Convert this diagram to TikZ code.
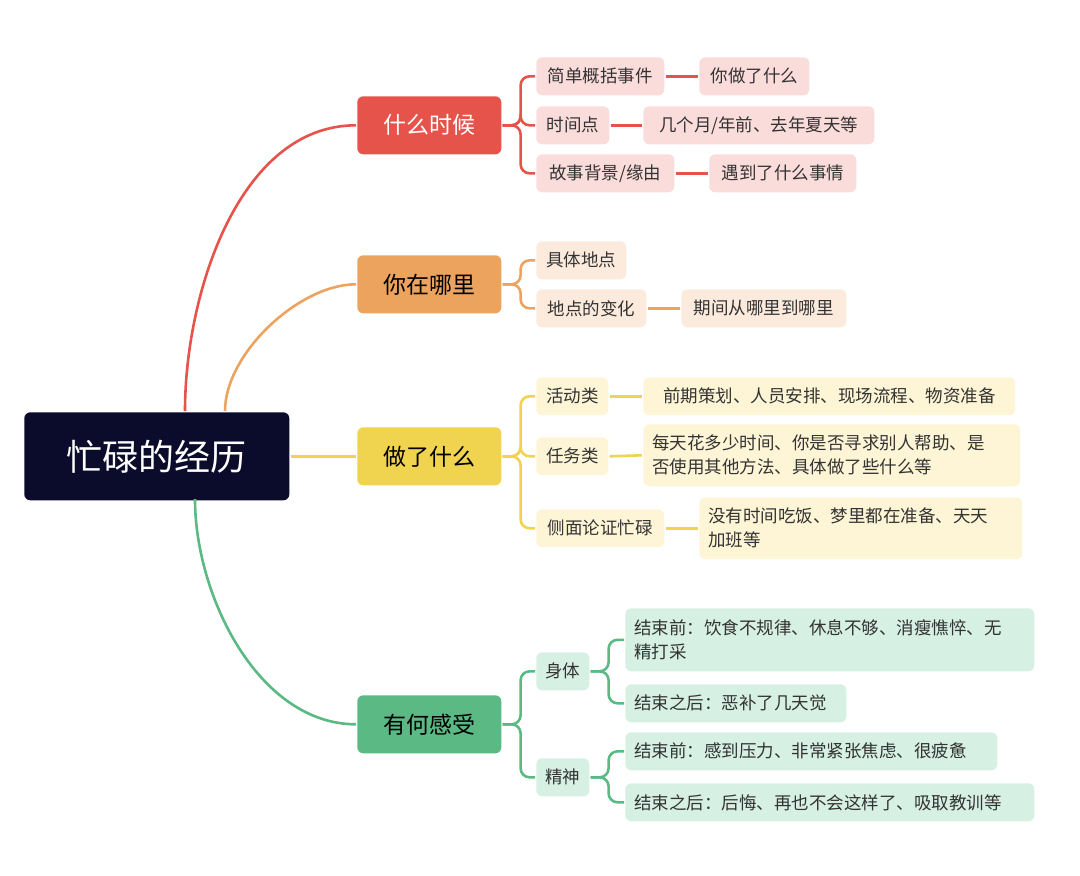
\documentclass[tikz,border=0pt]{standalone}
\usepackage{fontspec}
\setmainfont{Noto Sans CJK SC}
\begin{document}
\begin{tikzpicture}[x=1pt,y=-1pt,line width=2.6pt]
\definecolor{cR}{HTML}{E5534B}\definecolor{cO}{HTML}{ECA35E}
\definecolor{cY}{HTML}{F0D34E}\definecolor{cG}{HTML}{5BB984}
\definecolor{lR}{HTML}{FADCDB}\definecolor{lO}{HTML}{FCEBDD}
\definecolor{lY}{HTML}{FDF5D5}\definecolor{lG}{HTML}{D6F0E4}
\definecolor{nav}{HTML}{0B0B2B}\definecolor{tx}{HTML}{333333}
\useasboundingbox (0,0) rectangle (1080,876);
\tikzset{
 box/.style={anchor=north west,rounded corners=6pt,inner sep=0pt,align=center},
 l1/.style={box,fill=#1,minimum width=144,minimum height=58,font=\fontsize{23}{26}\selectfont},
 l2/.style={box,fill=#1,minimum height=38,text=tx,font=\fontsize{17.5}{24}\selectfont},
 ml/.style={box,fill=#1,minimum height=62,text=tx,align=left,inner xsep=9pt,font=\fontsize{17.5}{24}\selectfont},
 br/.style={draw=#1,rounded corners=9pt},
}
\newcommand{\bx}[5]{\node[l2=#1,minimum width=#4] (#2) at (#3) {#5};}
\node[box,fill=nav,text=white,minimum width=265,minimum height=88,font=\fontsize{36}{40}\selectfont] (root) at (23,411) {忙碌的经历};
\node[l1=cR,text=white] (a) at (356,95) {什么时候};
\node[l1=cO,text=black] (b) at (356,254) {你在哪里};
\node[l1=cY,text=black] (c) at (356,426) {做了什么};
\node[l1=cG,text=black] (d) at (356,694) {有何感受};
\bx{lR}{a1}{535,56}{128}{简单概括事件}
\bx{lR}{a1x}{698,56}{110}{你做了什么}
\bx{lR}{a2}{535,105}{73}{时间点}
\bx{lR}{a2x}{642,105}{231}{几个月/年前、去年夏天等}
\bx{lR}{a3}{535,153}{138}{故事背景/缘由}
\bx{lR}{a3x}{708,153}{147}{遇到了什么事情}
\bx{lO}{b1}{535,240}{90}{具体地点}
\bx{lO}{b2}{535,288}{110}{地点的变化}
\bx{lO}{b2x}{680,288}{165}{期间从哪里到哪里}
\bx{lY}{c1}{535,376}{72}{活动类}
\bx{lY}{c1x}{642,376}{372}{前期策划、人员安排、现场流程、物资准备}
\bx{lY}{c2}{535,436}{72}{任务类}
\node[ml=lY,minimum width=377,text width=359] (c2x) at (642,423) {每天花多少时间、你是否寻求别人帮助、是\\否使用其他方法、具体做了些什么等};
\bx{lY}{c3}{535,508}{128}{侧面论证忙碌}
\node[ml=lY,minimum width=323,text width=305] (c3x) at (698,496) {没有时间吃饭、梦里都在准备、天天\\加班等};
\bx{lG}{d1}{535,651}{53}{身体}
\node[ml=lG,minimum width=409,text width=391,minimum height=63] (d1a) at (624,607) {结束前：饮食不规律、休息不够、消瘦憔悴、无\\精打采};
\node[l2=lG,minimum width=221,align=left,text width=203] (d1b) at (624,683) {结束之后：恶补了几天觉};
\bx{lG}{d2}{535,757}{53}{精神}
\node[l2=lG,minimum width=372,align=left,text width=354] (d2a) at (624,731) {结束前：感到压力、非常紧张焦虑、很疲惫};
\node[l2=lG,minimum width=409,align=left,text width=391] (d2b) at (624,782) {结束之后：后悔、再也不会这样了、吸取教训等};
\draw[cR] (185,411) to[out=90,in=180,looseness=0.9] (a.west);
\draw[cO] (225,411) to[out=90,in=180,looseness=0.8] (b.west);
\draw[cY] (root.east) -- (c.west);
\draw[cG] (195,499) to[out=-90,in=180,looseness=0.9] (d.west);
\foreach \p/\c/\k in {a/a1/cR,a/a2/cR,a/a3/cR,b/b1/cO,b/b2/cO,c/c1/cY,c/c2/cY,c/c3/cY,d/d1/cG,d/d2/cG}
  \draw[br=\k] (\p.east) -- ++(18,0) |- (\c.west);
\foreach \p/\c/\k in {d1/d1a/cG,d1/d1b/cG,d2/d2a/cG,d2/d2b/cG}
  \draw[br=\k] (\p.east) -- ++(18,0) |- (\c.west);
\foreach \p/\c/\k in {a1/a1x/cR,a2/a2x/cR,a3/a3x/cR,b2/b2x/cO,c1/c1x/cY,c2/c2x/cY,c3/c3x/cY}
  \draw[\k] (\p.east) -- (\c.west);
\end{tikzpicture}
\end{document}
